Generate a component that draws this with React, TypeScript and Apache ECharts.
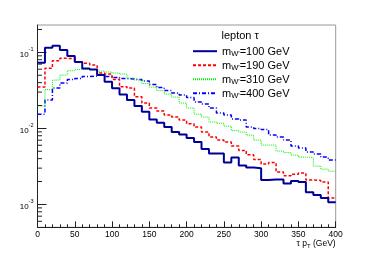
import React, { useEffect, useRef } from "react";
import * as echarts from "echarts";

// lower bin edges (GeV)
const binEdges = [0, 10, 20, 30, 40, 50, 60, 70, 80, 90, 100, 110, 120, 130, 140, 150, 160, 170, 180, 190, 200, 210, 220, 230, 240, 250, 260, 270, 280, 290, 300, 310, 320, 330, 340, 350, 360, 370, 380, 390];
const xUpper = 400;

const mw100 = [0.073, 0.115, 0.122, 0.107, 0.0894, 0.0746, 0.0612, 0.0594, 0.0503, 0.041, 0.0336, 0.028, 0.0236, 0.0197, 0.0165, 0.0131, 0.0119, 0.0104, 0.00894, 0.00829, 0.00746, 0.0066, 0.00534, 0.00466, 0.00466, 0.00355, 0.00413, 0.00324, 0.00305, 0.003, 0.00209, 0.00212, 0.00212, 0.00188, 0.00203, 0.00197, 0.00145, 0.00133, 0.00121, 0.00107];
const mw190 = [0.0349, 0.0616, 0.0775, 0.0834, 0.0829, 0.0752, 0.0717, 0.0681, 0.0534, 0.0518, 0.0441, 0.0353, 0.0339, 0.026, 0.0215, 0.0185, 0.0169, 0.015, 0.0141, 0.0129, 0.0115, 0.0104, 0.00894, 0.00768, 0.00702, 0.0066, 0.00585, 0.00513, 0.00449, 0.00389, 0.00339, 0.00355, 0.00266, 0.00239, 0.0025, 0.00258, 0.00209, 0.00207, 0.00197, 0.00121];
const mw310 = [0.0197, 0.0324, 0.0432, 0.0503, 0.0573, 0.0597, 0.0597, 0.0597, 0.0567, 0.0551, 0.0534, 0.0518, 0.0459, 0.0432, 0.0389, 0.0349, 0.0314, 0.0283, 0.0258, 0.0215, 0.0185, 0.0154, 0.0141, 0.0121, 0.0117, 0.0107, 0.00936, 0.00894, 0.00816, 0.00702, 0.00603, 0.00603, 0.00503, 0.0048, 0.00445, 0.00419, 0.00413, 0.00319, 0.00291, 0.00274];
const mw400 = [0.0154, 0.0236, 0.0339, 0.0395, 0.0439, 0.0452, 0.048, 0.0488, 0.0503, 0.048, 0.0466, 0.0452, 0.0445, 0.0439, 0.0419, 0.0377, 0.0344, 0.0314, 0.0292, 0.0274, 0.0254, 0.0222, 0.0209, 0.0185, 0.0159, 0.015, 0.0133, 0.0129, 0.0104, 0.00994, 0.00964, 0.00816, 0.00768, 0.00702, 0.00585, 0.00551, 0.00488, 0.00459, 0.00419, 0.00383];

const masses = ["100", "190", "310", "400"];
const legendTitle = "lepton τ";
const xTitle = ["τ p", "T", " (GeV)"];
const yMinorTicks = [0.0006, 0.0007, 0.0008, 0.0009, 0.002, 0.003, 0.004, 0.005, 0.006, 0.007, 0.008, 0.009, 0.02, 0.03, 0.04, 0.05, 0.06, 0.07, 0.08, 0.09, 0.2];
const yMin = 0.0005;
const yMax = 0.229;

const FONT = "'Liberation Sans', Arial, Helvetica, sans-serif";

function stepData(vals: number[]) {
  const d: number[][] = binEdges.map((x, i) => [x, vals[i]]);
  d.push([xUpper, vals[vals.length - 1]]);
  return d;
}

export default function App() {
  const ref = useRef<HTMLDivElement>(null);
  useEffect(() => {
    document.body.style.margin = "0";
    const chart = echarts.init(ref.current!, null, { renderer: "svg" });
    const names = masses.map((m) => `mW'=${m} GeV`);
    const styles = [
      { color: "#000099", width: 2, type: "solid" as any },
      { color: "#ff0000", width: 1.5, type: [3, 2] as any },
      { color: "#00ee00", width: 1, type: [1, 1] as any },
      { color: "#0000ff", width: 1.5, type: [4, 2, 1, 2] as any },
    ];
    const datas = [mw100, mw190, mw310, mw400];
    const lineSeries = datas.map((vals, i) => ({
      name: names[i],
      type: "line",
      step: "end",
      symbol: "none",
      data: stepData(vals),
      lineStyle: { color: styles[i].color, width: styles[i].width, type: styles[i].type },
      itemStyle: { color: styles[i].color },
      z: 5 - i,
    }));
    chart.setOption({
      animation: false,
      textStyle: { fontFamily: FONT },
      grid: {
        left: 37.5,
        right: 38.3,
        top: 25,
        bottom: 25.7,
        show: true,
        borderColor: "#999",
        borderWidth: 1,
        backgroundColor: "transparent",
      },
      title: {
        text: legendTitle,
        left: 221.5,
        top: 29.5,
        padding: 0,
        textStyle: { fontSize: 11, fontWeight: "normal", color: "#000", fontFamily: FONT },
      },
      graphic: [
        {
          type: "text",
          right: 38.3,
          top: 238.5,
          style: {
            text: `{a|${xTitle[0]}}{b|${xTitle[1]}}{a|${xTitle[2]}}`,
            rich: {
              a: { fontSize: 8.5, fill: "#000", fontFamily: FONT, lineHeight: 10, verticalAlign: "top" },
              b: { fontSize: 6, fill: "#000", fontFamily: FONT, lineHeight: 10, verticalAlign: "bottom", padding: [4, 0, 0, 0] },
            },
          },
        },
      ],
      legend: {
        orient: "vertical",
        left: 192,
        top: 44.2,
        padding: 0,
        itemWidth: 24,
        itemHeight: 12,
        itemGap: 1,
        data: names,
        itemStyle: { opacity: 0 },
        formatter: (n: string) => {
          const m = n.replace("mW'=", "");
          return `{m|m}{w|W'}{t|=${m}}`;
        },
        textStyle: {
          color: "#000",
          fontFamily: FONT,
          fontSize: 11,
          rich: {
            m: { fontSize: 11, fontFamily: FONT, color: "#000", lineHeight: 12, verticalAlign: "top" },
            w: { fontSize: 7.5, fontFamily: FONT, color: "#000", lineHeight: 12, verticalAlign: "bottom", padding: [5, 0, 0, 0] },
            t: { fontSize: 11, fontFamily: FONT, color: "#000", lineHeight: 12, verticalAlign: "top" },
          },
        },
      },
      xAxis: {
        type: "value",
        min: 0,
        max: 400,
        interval: 50,
        splitLine: { show: false },
        axisLine: { show: true, onZero: false, lineStyle: { color: "#222", width: 1 } },
        axisTick: { show: true, inside: true, length: 6, lineStyle: { color: "#222" } },
        minorTick: { show: true, splitNumber: 5, length: 3, lineStyle: { color: "#222" } },
        axisLabel: { fontSize: 8.5, lineHeight: 9, color: "#000", margin: 2, fontFamily: FONT },
      },
      yAxis: {
        type: "log",
        logBase: 10,
        min: yMin,
        max: yMax,
        splitLine: { show: false },
        axisLine: { show: true, lineStyle: { color: "#222", width: 1 } },
        axisTick: { show: true, inside: true, length: 9, lineStyle: { color: "#222" } },
        minorTick: { show: false },
        axisLabel: {
          margin: 4,
          showMinLabel: false,
          showMaxLabel: false,
          formatter: (v: number) => {
            const e = Math.round(Math.log10(v));
            return `{b|10}{s|${e}}`;
          },
          rich: {
            b: { fontSize: 8, color: "#000", fontFamily: FONT, lineHeight: 12, verticalAlign: "bottom" },
            s: { fontSize: 5.5, color: "#000", fontFamily: FONT, lineHeight: 12, verticalAlign: "top" },
          },
        },
      },
      series: [
        ...lineSeries,
        {
          name: "yMinorTicks",
          type: "custom",
          silent: true,
          clip: false,
          z: 10,
          data: yMinorTicks.map((v) => [0, v]),
          renderItem: (params: any, api: any) => {
            const p = api.coord([api.value(0), api.value(1)]);
            return {
              type: "line",
              shape: { x1: p[0], y1: p[1], x2: p[0] + 4.5, y2: p[1] },
              style: { stroke: "#222", lineWidth: 1 },
            };
          },
        },
      ],
    });
    return () => chart.dispose();
  }, []);
  return <div ref={ref} style={{ position: "fixed", left: 0, top: 0, width: 374, height: 253 }} />;
}
